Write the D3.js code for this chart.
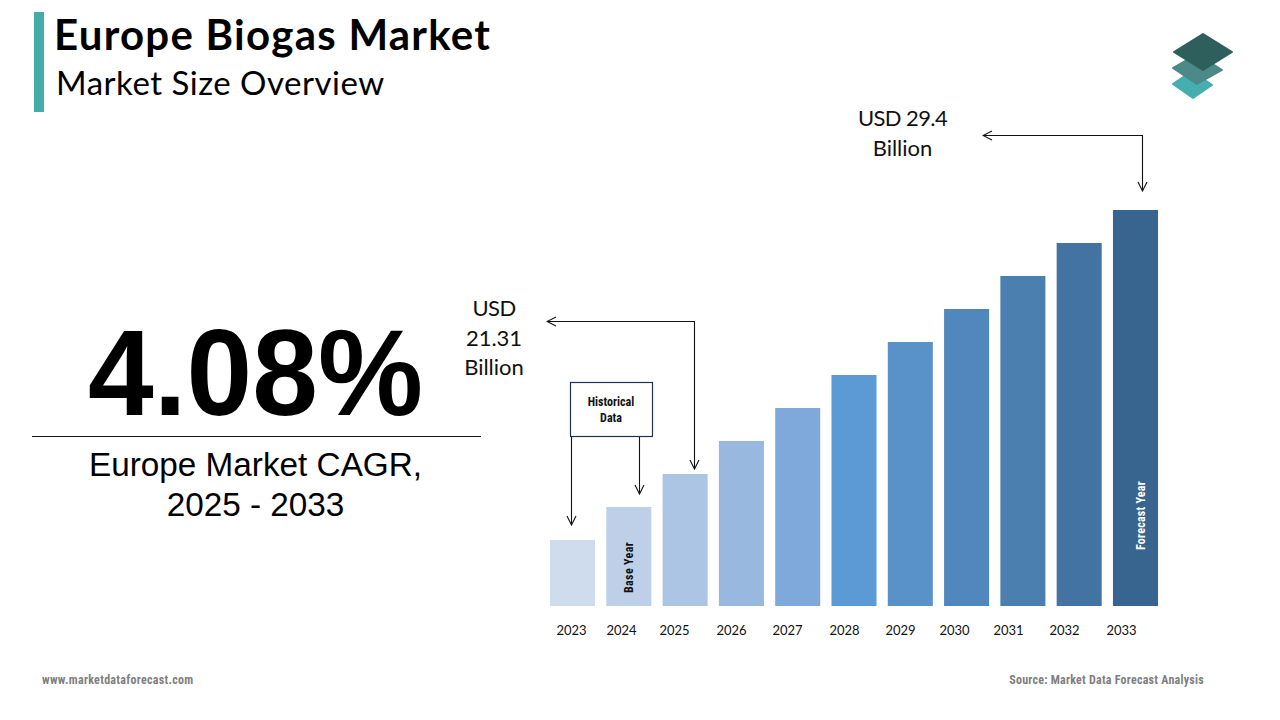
<!DOCTYPE html>
<html lang="en">
<head>
  <meta charset="UTF-8">
  <title>Europe Biogas Market</title>
  <script src="https://d3js.org/d3.v7.min.js"></script>
  <style>
    html, body { margin: 0; padding: 0; background: #fff; }
    svg { display: block; }
  </style>
</head>
<body>
  <svg width="1280" height="720"></svg>

  <script>
    // data (bars are an illustrative staircase, relative height units)
    const years = ["2023", "2024", "2025", "2026", "2027", "2028", "2029", "2030", "2031", "2032", "2033"];
    const barHeights = [2, 3, 4, 5, 6, 7, 8, 9, 10, 11, 12];
    const barColors = ["#cfdcee", "#bed0e8", "#adc5e4", "#98b8df", "#7fa9db", "#5c9ad6", "#5992c9", "#5088bd", "#4a7fb0", "#4273a2", "#38658f"];
    const yearLabelCenters = [571, 621, 674, 731, 787, 844, 900, 954, 1008, 1064, 1121];

    const calibri = "Lato, Carlito, sans-serif";
    const arial = "'Liberation Sans', Arial, sans-serif";
    const agency = "'Liberation Sans Narrow', 'Roboto Condensed', Roboto, sans-serif";

    const svg = d3.select("svg");

    // scales
    const x = d3.scaleBand().domain(years).range([550, 1158]).paddingInner(0.2);
    const y = d3.scaleLinear().domain([0, 12]).range([606, 210]);
    const labelX = d3.scaleOrdinal().domain(years).range(yearLabelCenters);

    // open arrow head
    svg.append("defs").append("marker")
      .attr("id", "arrow")
      .attr("markerUnits", "userSpaceOnUse")
      .attr("viewBox", "-10 -6 11 12")
      .attr("refX", 0).attr("refY", 0)
      .attr("markerWidth", 11).attr("markerHeight", 12)
      .attr("orient", "auto-start-reverse")
      .append("path")
      .attr("d", "M-9,-4.5L0,0L-9,4.5")
      .attr("fill", "none")
      .attr("stroke", "#111")
      .attr("stroke-width", 1.1);

    // header
    svg.append("rect").attr("x", 34).attr("y", 12).attr("width", 10).attr("height", 100).attr("fill", "#45aaa8");
    svg.append("text").attr("x", 54).attr("y", 50)
      .attr("font-family", calibri).attr("font-weight", 700).attr("font-size", 42).attr("fill", "#000")
      .attr("letter-spacing", 1.25)
      .text("Europe Biogas Market");
    svg.append("text").attr("x", 56).attr("y", 95)
      .attr("font-family", calibri).attr("font-size", 33).attr("fill", "#000")
      .attr("letter-spacing", 0.5)
      .text("Market Size Overview");

    // logo
    const logo = svg.append("g").attr("stroke-linejoin", "round");
    const diamonds = [
      { d: "M1193,98L1212,85L1192,71L1173,84Z", fill: "#45aeb0" },
      { d: "M1197,84L1222,70L1197,54L1173,68Z", fill: "#4b8a88" },
      { d: "M1203,70L1232,52L1203,34L1174,52Z", fill: "#2f5f5c" }
    ];
    logo.selectAll("path").data(diamonds).enter().append("path")
      .attr("d", d => d.d).attr("fill", d => d.fill).attr("stroke", d => d.fill).attr("stroke-width", 2);

    // CAGR block, the big number is a bit taller and narrower than plain Arial bold
    svg.append("text").attr("transform", "translate(255.5,414.5) scale(0.96,1)").attr("text-anchor", "middle")
      .attr("font-family", arial).attr("font-weight", 700).attr("font-size", 123).attr("fill", "#000")
      .text("4.08%");
    svg.append("line").attr("x1", 32).attr("x2", 481).attr("y1", 436.5).attr("y2", 436.5).attr("stroke", "#111");
    svg.append("text").attr("x", 255.5).attr("y", 476).attr("text-anchor", "middle")
      .attr("font-family", arial).attr("font-size", 33.3).attr("fill", "#000")
      .text("Europe Market CAGR,");
    svg.append("text").attr("x", 255.5).attr("y", 516).attr("text-anchor", "middle")
      .attr("font-family", arial).attr("font-size", 33.3).attr("fill", "#000")
      .text("2025 - 2033");

    // bars
    svg.selectAll(".bar").data(years).enter().append("rect")
      .attr("class", "bar")
      .attr("x", d => x(d))
      .attr("y", (d, i) => y(barHeights[i]))
      .attr("width", x.bandwidth())
      .attr("height", (d, i) => y(0) - y(barHeights[i]))
      .attr("fill", (d, i) => barColors[i]);

    // year labels
    const axis = svg.append("g")
      .attr("transform", "translate(0,623)")
      .call(d3.axisBottom(labelX).tickSize(0).tickPadding(3));
    axis.select(".domain").remove();
    axis.selectAll("text").attr("font-family", calibri).attr("font-size", 13).attr("fill", "#111");

    // callouts, digits are narrower in the original font so squeeze those lines a bit
    const calloutText = (lines, cx, firstBaseline) => {
      svg.selectAll(null).data(lines).enter().append("text")
        .attr("x", cx).attr("y", (d, i) => firstBaseline + i * 29.5)
        .attr("text-anchor", "middle")
        .attr("font-family", calibri).attr("font-size", 22).attr("fill", "#111")
        .attr("letter-spacing", d => d.startsWith("USD") ? -0.6 : 0)
        .text(d => d);
    };
    calloutText(["USD 29.4", "Billion"], 902.5, 126);
    calloutText(["USD", "21.31", "Billion"], 494, 316);

    const arrow = (pts, both) => {
      const p = svg.append("path")
        .attr("d", d3.line()(pts))
        .attr("fill", "none").attr("stroke", "#111").attr("stroke-width", 1.1)
        .attr("marker-end", "url(#arrow)");
      if (both) p.attr("marker-start", "url(#arrow)");
    };
    arrow([[983, 135.5], [1142.5, 135.5], [1142.5, 191]], true);
    arrow([[547, 321.5], [694.5, 321.5], [694.5, 469]], true);
    arrow([[571.5, 437], [571.5, 525]], false);
    arrow([[639.5, 437], [639.5, 494]], false);

    // historical data box
    svg.append("rect").attr("x", 570.5).attr("y", 382.5).attr("width", 82).attr("height", 54)
      .attr("fill", "#fff").attr("stroke", "#1f3350").attr("stroke-width", 1.2);
    ["Historical", "Data"].forEach((t, i) => {
      svg.append("text").attr("x", 611).attr("y", 406 + i * 16).attr("text-anchor", "middle")
        .attr("font-family", agency).attr("font-weight", 700).attr("font-size", 12).attr("fill", "#111")
        .text(t);
    });

    // labels inside bars
    svg.append("text").attr("transform", "translate(633,593) rotate(-90)")
      .attr("font-family", agency).attr("font-weight", 700).attr("font-size", 12).attr("fill", "#111")
      .attr("letter-spacing", 0.35)
      .text("Base Year");
    svg.append("text").attr("transform", "translate(1145,550) rotate(-90)")
      .attr("font-family", agency).attr("font-weight", 700).attr("font-size", 12).attr("fill", "#fff")
      .attr("letter-spacing", 0.25)
      .text("Forecast Year");

    // footer
    svg.append("text").attr("x", 42).attr("y", 684)
      .attr("font-family", agency).attr("font-weight", 700).attr("font-size", 12).attr("fill", "#7f7f7f")
      .attr("letter-spacing", 0.3)
      .text("www.marketdataforecast.com");
    svg.append("text").attr("x", 1204).attr("y", 684).attr("text-anchor", "end")
      .attr("font-family", agency).attr("font-weight", 700).attr("font-size", 12).attr("fill", "#7f7f7f")
      .attr("letter-spacing", 0.25)
      .text("Source: Market Data Forecast Analysis");
  </script>
</body>
</html>
